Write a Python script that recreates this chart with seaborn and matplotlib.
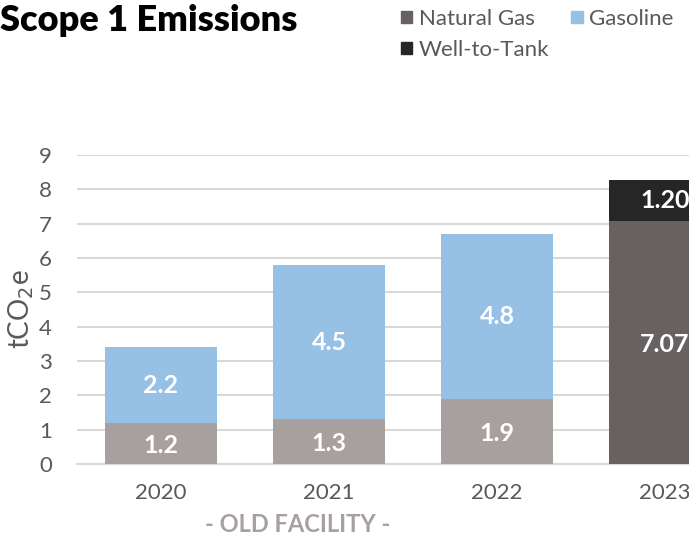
import matplotlib
matplotlib.use("Agg")
import matplotlib.pyplot as plt
import seaborn as sns
import pandas as pd
from matplotlib.patches import Patch

years = ["2020", "2021", "2022", "2023"]
natural_gas = [1.2, 1.3, 1.9, 7.07]
gasoline = [2.2, 4.5, 4.8, 0.0]
well_to_tank = [0.0, 0.0, 0.0, 1.20]
ng_labels = ["1.2", "1.3", "1.9", "7.07"]
gas_labels = ["2.2", "4.5", "4.8", ""]
wtt_labels = ["", "", "", "1.20"]

ng_colors = ["#A7A09F", "#A7A09F", "#A7A09F", "#676261"]
gas_color = "#96C0E4"
wtt_color = "#262626"
text_color = "#595959"

sns.set_style("white")
plt.rcParams["font.family"] = ["Lato", "DejaVu Sans"]

df = pd.DataFrame({"year": years, "ng": natural_gas, "gas": gasoline, "wtt": well_to_tank})

fig = plt.figure(figsize=(6.89, 5.39), dpi=100)
ax = fig.add_axes([77 / 689, 75 / 539, 1 - 77 / 689, 309 / 539])

w = 0.667
bar_kw = dict(width=w, ax=ax, saturation=1, zorder=3, linewidth=0, edgecolor="none")
sns.barplot(data=df, x="year", y="ng", hue="year", palette=ng_colors, legend=False, **bar_kw)
sns.barplot(data=df, x="year", y="gas", color=gas_color, bottom=df["ng"], **bar_kw)
sns.barplot(data=df, x="year", y="wtt", color=wtt_color, bottom=df["ng"], **bar_kw)

for i in range(len(years)):
    lab_kw = dict(ha="center", va="center", color="white", fontsize=18, fontweight="bold", zorder=5)
    if ng_labels[i]:
        ax.text(i, natural_gas[i] / 2 - 0.05, ng_labels[i], **lab_kw)
    if gas_labels[i]:
        ax.text(i, natural_gas[i] + gasoline[i] / 2, gas_labels[i], **lab_kw)
    if wtt_labels[i]:
        ax.text(i, natural_gas[i] + well_to_tank[i] / 2, wtt_labels[i], **lab_kw)

ax.set_ylim(0, 9)
ax.set_xlim(-0.5, 3.143)
ax.set_yticks(range(0, 10))
ax.yaxis.grid(True, color="#D9D9D9", linewidth=1.5, zorder=0)
ax.set_axisbelow(True)
for s in ["top", "right", "left"]:
    ax.spines[s].set_visible(False)
ax.spines["bottom"].set_color("#D9D9D9")
ax.spines["bottom"].set_linewidth(1.5)
ax.tick_params(axis="both", length=0, labelsize=16, labelcolor=text_color)
ax.tick_params(axis="y", pad=18)
ax.tick_params(axis="x", pad=14)
ax.set_xlabel("")
ax.set_ylabel("tCO$_2$e", fontsize=20, color=text_color, labelpad=2)

fig.text(0.0, 0.962, "Scope 1 Emissions", fontsize=26, fontweight="heavy", color="black",
         va="center", ha="left")
fig.text(298 / 689, 1 - 525 / 539, "- OLD FACILITY -", fontsize=17, fontweight="bold",
         color="#A7A09F", ha="center", va="center")

handles = [Patch(color=ng_colors[3], label="Natural Gas"),
           Patch(color=wtt_color, label="Well-to-Tank"),
           Patch(color=gas_color, label="Gasoline")]
fig.legend(handles=handles, ncol=2, loc="upper left", bbox_to_anchor=(392 / 689, 1.0),
           frameon=False, fontsize=16, labelcolor=text_color, handlelength=0.5,
           handleheight=0.5, handletextpad=0.3, columnspacing=1.0, labelspacing=0.5,
           borderaxespad=0)

fig.savefig("out.png", dpi=100)
